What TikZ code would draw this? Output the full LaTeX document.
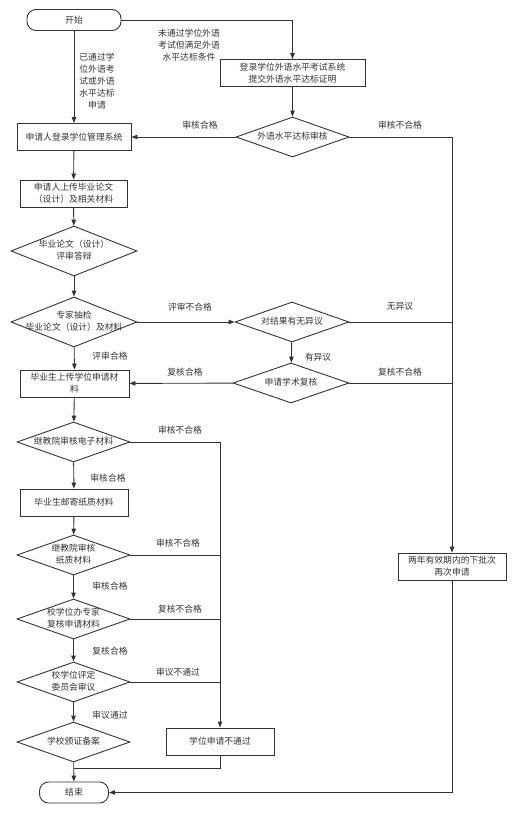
\documentclass[tikz,border=0pt]{standalone}
\usepackage{fontspec}
\setmainfont{Noto Sans CJK SC}
\usetikzlibrary{shapes.geometric,arrows.meta}

% diamond text that does not widen the diamond
\newcommand{\dtext}[1]{\makebox[0pt]{\begin{tabular}{@{}c@{}}#1\end{tabular}}}

\begin{document}
\begin{tikzpicture}[x=1pt, y=-1pt,
    every node/.style={font=\fontsize{8.8}{12}\selectfont, text=black!80},
    line/.style={draw=black!80, line width=0.9pt},
    arrow/.style={line, -{Triangle[length=6pt, width=4.5pt]}},
    terminal/.style={draw=black!80, line width=0.9pt, rounded corners=9pt, minimum height=21pt},
    process/.style={draw=black!80, line width=0.9pt, rectangle, minimum height=27pt, align=center, inner sep=1pt},
    decision/.style={draw=black!80, line width=0.9pt, diamond, inner sep=0pt},
    lbl/.style={align=center, inner sep=0pt}]
    \useasboundingbox (0,0) rectangle (512,813);

    % nodes
    \node [terminal, minimum width=94pt] (start) at (74, 20) {开始};
    \node [process, minimum width=145pt] (sysfl) at (292.5, 73) {登录学位外语水平考试系统\\提交外语水平达标证明};
    \node [decision, minimum width=113pt, minimum height=40pt] (checkfl) at (292.5, 137) {\dtext{外语水平达标审核}};
    \node [process, minimum width=114pt] (login) at (74, 137) {申请人登录学位管理系统};
    \node [process, minimum width=107pt] (upload) at (73.5, 193.5) {申请人上传毕业论文\\（设计）及相关材料};
    \node [decision, minimum width=126pt, minimum height=50pt] (defense) at (74, 251) {\dtext{毕业论文（设计）\\评审答辩}};
    \node [decision, minimum width=126pt, minimum height=50pt] (spot) at (74, 322) {\dtext{专家抽检\\毕业论文（设计）及材料}};
    \node [decision, minimum width=114pt, minimum height=40pt] (objection) at (292, 322) {\dtext{对结果有无异议}};
    \node [decision, minimum width=116pt, minimum height=40pt] (recheck) at (291, 383) {\dtext{申请学术复核}};
    \node [process, minimum width=109pt] (materials) at (74.5, 383.5) {毕业生上传学位申请材\\料};
    \node [decision, minimum width=113pt, minimum height=40pt] (echeck) at (73.5, 442) {\dtext{继教院审核电子材料}};
    \node [process, minimum width=108pt] (mail) at (74, 502.5) {毕业生邮寄纸质材料};
    \node [decision, minimum width=113pt, minimum height=40pt] (pcheck) at (73.5, 555) {\dtext{继教院审核\\纸质材料}};
    \node [decision, minimum width=113pt, minimum height=40pt] (expert) at (73.5, 619) {\dtext{校学位办专家\\复核申请材料}};
    \node [decision, minimum width=113pt, minimum height=40pt] (committee) at (73.5, 682) {\dtext{校学位评定\\委员会审议}};
    \node [decision, minimum width=113pt, minimum height=40pt] (record) at (73.5, 742) {\dtext{学校颁证备案}};
    \node [process, minimum width=108pt] (reject) at (220, 741.5) {学位申请不通过};
    \node [process, minimum width=108pt] (retry) at (452, 566.5) {两年有效期内的下批次\\再次申请};
    \node [terminal, minimum width=69pt] (end) at (74, 792.5) {结束};

    % junctions
    \coordinate (j1) at (objection.east -| retry.north);
    \coordinate (j2) at (recheck.east -| retry.north);
    \coordinate (k1) at (pcheck.east -| reject.north);
    \coordinate (k2) at (expert.east -| reject.north);
    \coordinate (k3) at (committee.east -| reject.north);
    \coordinate (k4) at (74, 768);

    % connectors
    \draw [arrow] (start) -- (login);
    \draw [arrow] (start.east) -| (sysfl.north);
    \draw [arrow] (sysfl) -- (checkfl);
    \draw [arrow] (checkfl) -- (login);
    \draw [arrow] (checkfl.east) -| (retry.north);
    \draw [arrow] (login) -- (upload);
    \draw [arrow] (upload) -- (defense);
    \draw [arrow] (defense) -- (spot);
    \draw [arrow] (spot) -- (objection);
    \draw [arrow] (spot) -- (materials);
    \draw [line] (objection.east) -- (j1);
    \draw [arrow] (objection) -- (recheck);
    \draw [arrow] (recheck) -- (materials);
    \draw [line] (recheck.east) -- (j2);
    \draw [arrow] (materials) -- (echeck);
    \draw [arrow] (echeck.east) -| (reject.north);
    \draw [arrow] (echeck) -- (mail);
    \draw [arrow] (mail) -- (pcheck);
    \draw [line] (pcheck.east) -- (k1);
    \draw [arrow] (pcheck) -- (expert);
    \draw [line] (expert.east) -- (k2);
    \draw [arrow] (expert) -- (committee);
    \draw [line] (committee.east) -- (k3);
    \draw [arrow] (committee) -- (record);
    \draw [arrow] (record) -- (end);
    \draw [line] (reject.south) |- (k4);
    \draw [arrow] (retry.south) |- (end.east);

    % labels
    \node [lbl] (l1) at (97, 81) {已通过学\\位外语考\\试或外语\\水平达标\\申请};
    \node [lbl] (l2) at (189, 45) {未通过学位外语\\考试但满足外语\\水平达标条件};
    \node [lbl] (l3) at (200, 125) {审核合格};
    \node [lbl] (l4) at (400, 125) {审核不合格};
    \node [lbl] (l5) at (190, 307) {评审不合格};
    \node [lbl] (l6) at (400, 306) {无异议};
    \node [lbl] (l7) at (318, 357) {有异议};
    \node [lbl] (l8) at (185, 372) {复核合格};
    \node [lbl] (l9) at (400, 372) {复核不合格};
    \node [lbl] (l10) at (110, 356) {评审合格};
    \node [lbl] (l11) at (180, 430) {审核不合格};
    \node [lbl] (l12) at (108, 478) {审核合格};
    \node [lbl] (l13) at (178, 543) {审核不合格};
    \node [lbl] (l14) at (110, 586) {审核合格};
    \node [lbl] (l15) at (180, 609) {复核不合格};
    \node [lbl] (l16) at (110, 651) {复核合格};
    \node [lbl] (l17) at (178, 672) {审议不通过};
    \node [lbl] (l18) at (110, 715) {审议通过};
\end{tikzpicture}
\end{document}
